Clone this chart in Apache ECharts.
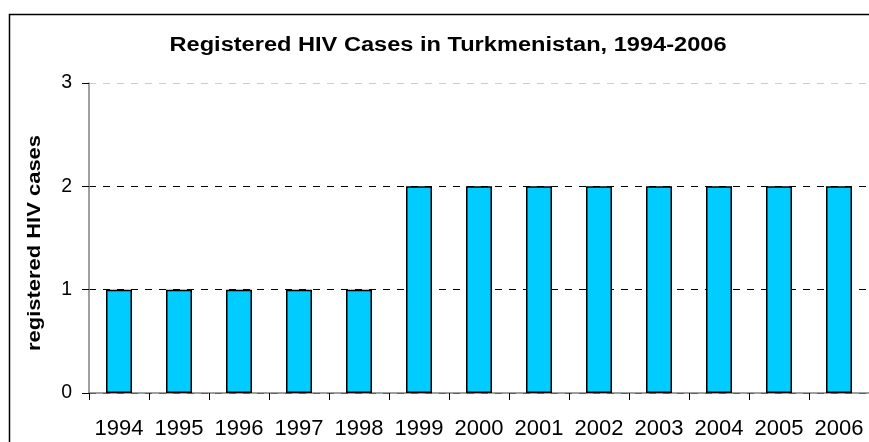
<!DOCTYPE html>
<html><head><meta charset="utf-8">
<script src="https://cdn.jsdelivr.net/npm/echarts@6/dist/echarts.min.js"></script>
<style>html,body{margin:0;padding:0;background:#fff}#c{width:869px;height:442px}</style>
</head><body><div id="c"></div>
<script>
const titleText = 'Registered HIV Cases in Turkmenistan, 1994-2006';
const yAxisName = 'registered HIV cases';
const years = ['1994','1995','1996','1997','1998','1999','2000','2001','2002','2003','2004','2005','2006'];
const cases = [1,1,1,1,1,2,2,2,2,2,2,2,2];

const chart = echarts.init(document.getElementById('c'), null, {renderer:'canvas'});
const font = 'Liberation Sans, Arial, sans-serif';
const tickFont = 'Liberation Sans, Arial, sans-serif';
chart.setOption({
  animation:false,
  backgroundColor:'#fff',
  graphic:[
    {type:'rect', shape:{x:9.5,y:14.5,width:900,height:500}, style:{fill:'none',stroke:'#000',lineWidth:1.5}, z:100},
    {type:'text', x:448, y:45, scaleX:1.18, style:{text:titleText, x:0, y:0, align:'center', verticalAlign:'middle',
      font:'bold 20px ' + font, fill:'#000'}},
    {type:'text', x:35, y:243, rotation:Math.PI/2, scaleX:1.22, style:{text:yAxisName, x:0, y:0, align:'center', verticalAlign:'middle',
      font:'bold 18px ' + font, fill:'#000'}}
  ],
  grid:{left:89, top:83, width:781, height:310, containLabel:false},
  xAxis:{type:'category', data:years, boundaryGap:true,
    axisLine:{lineStyle:{color:'#808080',width:1.5}},
    axisTick:{show:true, inside:false, length:7, alignWithLabel:false, lineStyle:{color:'#000',width:1}},
    axisLabel:{interval:0, hideOverlap:false, fontFamily:tickFont,fontSize:22,color:'#000',margin:25}},
  yAxis:{type:'value', min:0, max:3, interval:1,
    axisLine:{show:true,lineStyle:{color:'#808080',width:1.5}},
    axisTick:{show:true,length:7,lineStyle:{color:'#000',width:1}},
    axisLabel:{fontFamily:tickFont,fontSize:19.5,color:'#000',margin:17},
    splitLine:{show:true,lineStyle:{color:['#000','#000','#000','#ccc'],type:[7,7],width:1}}},
  series:[{type:'bar', data:cases, barWidth:26,
    itemStyle:{color:'#00CCFF',borderColor:'#000',borderWidth:1.5}}]
});
</script></body></html>
